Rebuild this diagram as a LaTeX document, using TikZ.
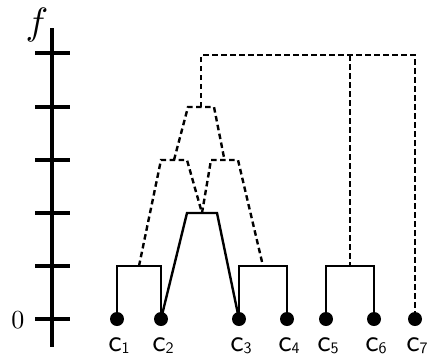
\documentclass[tikz,border=0pt]{standalone}
\usepackage{fontspec}
\begin{document}
\begin{tikzpicture}[x=1pt,y=-1pt,
  solidln/.style={line width=2.4pt},
  dashln/.style={line width=2.4pt,dash pattern=on 5.5pt off 3.5pt},
  leaf/.style={circle,fill=black,inner sep=0pt,minimum size=14pt},
  lbl/.style={font=\sffamily,inner sep=0pt,anchor=base},
  axis/.style={line width=3.6pt},
  tick/.style={line width=4pt}]
\useasboundingbox (0,0) rectangle (432,360);
% axis
\coordinate (atop) at (52,28);
\coordinate (abot) at (52,347);
\draw[axis] (atop) -- (abot);
\foreach \yy [count=\i] in {53,107,160,213,266,319}{
  \coordinate (tl\i) at (35,\yy);
  \coordinate (tr\i) at (70,\yy);
  \draw[tick] (tl\i) -- (tr\i);
}
\node[inner sep=0pt] (flab) at (37,25) {\scalebox{3.8}{$f$}};
\node[inner sep=0pt] (zero) at (18,320) {\scalebox{2.6}{0}};
% leaves
\foreach \xx [count=\i] in {117,161,239,287,326,374,415}{
  \node[leaf] (c\i) at (\xx,319) {};
  \node[lbl] (l\i) at (\xx+2,351) {\scalebox{3.0}{c}\raisebox{-2pt}{\scalebox{1.6}{\i}}};
}
% solid brackets
\coordinate (b12l) at (117,266); \coordinate (b12r) at (161,266); \coordinate (b12m) at (139,266);
\coordinate (b34l) at (239,266); \coordinate (b34r) at (287,266); \coordinate (b34m) at (263,266);
\coordinate (b56l) at (326,266); \coordinate (b56r) at (374,266); \coordinate (b56m) at (350,266);
\draw[solidln] (c1.center) -- (b12l) -- (b12r) -- (c2.center);
\draw[solidln] (c3.center) -- (b34l) -- (b34r) -- (c4.center);
\draw[solidln] (c5.center) -- (b56l) -- (b56r) -- (c6.center);
% solid trapezoid c2-c3
\coordinate (t23l) at (187,213); \coordinate (t23r) at (217,213); \coordinate (t23m) at (202,213);
\draw[solidln] (c2.center) -- (t23l) -- (t23r) -- (c3.center);
% dashed
\coordinate (dl1) at (161,160); \coordinate (dl2) at (187,160); \coordinate (dlm) at (174,160);
\coordinate (dr1) at (211,160); \coordinate (dr2) at (238,160); \coordinate (drm) at (224.5,160);
\draw[dashln] (b12m) -- (dl1) -- (dl2) -- (t23m);
\draw[dashln] (t23m) -- (dr1) -- (dr2) -- (b34m);
\coordinate (dt1) at (188,107); \coordinate (dt2) at (214,107); \coordinate (dtm) at (201,107);
\draw[dashln] (dlm) -- (dt1) -- (dt2) -- (drm);
\coordinate (top1) at (201,55); \coordinate (top2) at (415,55); \coordinate (topm) at (350,55);
\draw[dashln] (dtm) -- (top1) -- (top2) -- (c7.center);
\draw[dashln] (topm) -- (b56m);
\end{tikzpicture}
\end{document}
